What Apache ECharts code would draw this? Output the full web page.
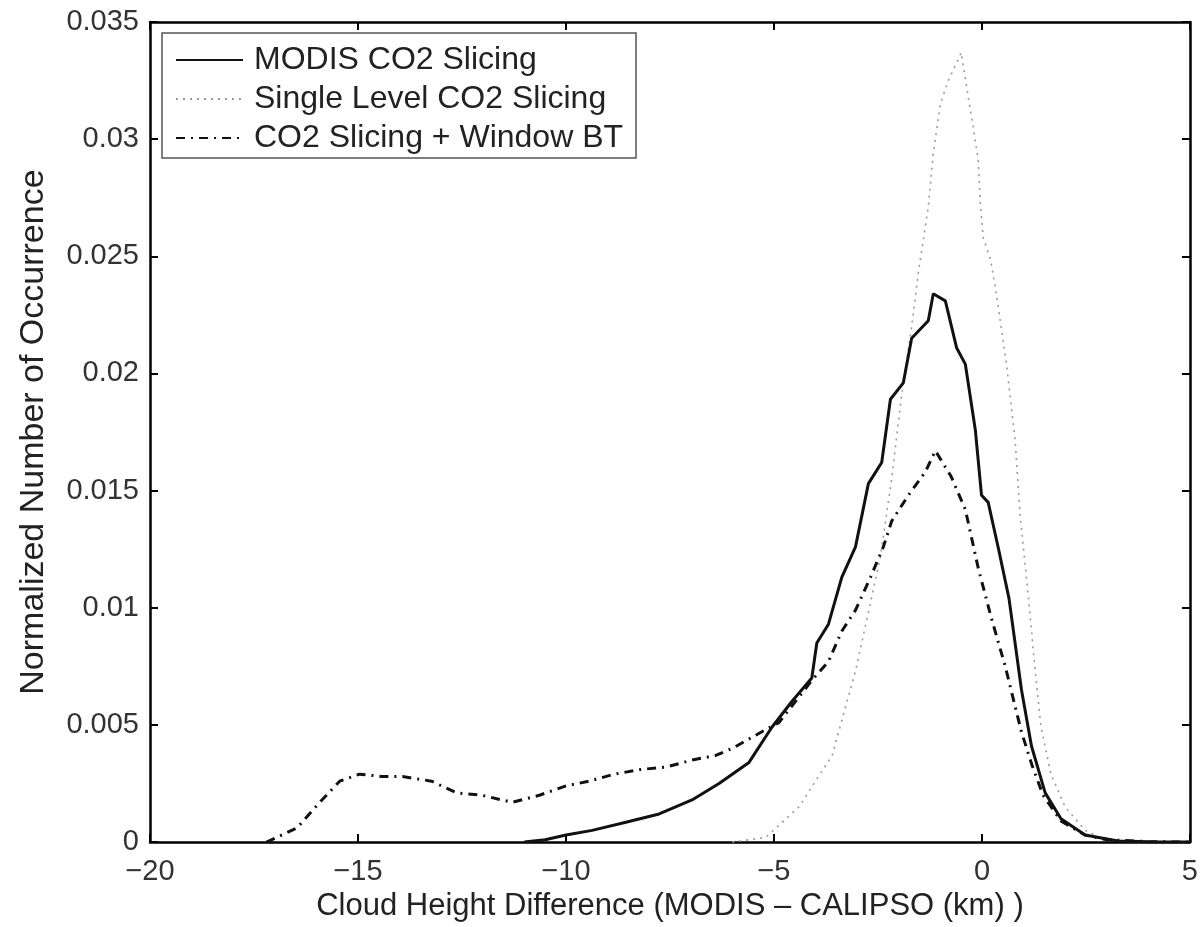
<!DOCTYPE html>
<html>
<head>
<meta charset="utf-8">
<script src="https://cdn.jsdelivr.net/npm/echarts@6/dist/echarts.min.js"></script>
<style>
html,body{margin:0;padding:0;background:#fff;}
#chart{width:1201px;height:927px;}
</style>
</head>
<body>
<div id="chart"></div>
<script>
// ---- Data ----
var seriesNames = ['MODIS CO2 Slicing', 'Single Level CO2 Slicing', 'CO2 Slicing + Window BT'];

var modisX = [-11.0, -10.5, -10.0, -9.37, -8.56, -7.76, -6.97, -6.32, -5.6, -5.05, -4.57, -4.09, -3.97, -3.69, -3.37, -3.04, -2.73, -2.41, -2.2, -1.89, -1.69, -1.29, -1.17, -0.88, -0.61, -0.40, -0.16, -0.01, 0.15, 0.40, 0.65, 0.95, 1.19, 1.52, 1.9, 2.48, 3.27, 4.0, 5.0];
var modisY = [0, 0.0001, 0.0003, 0.0005, 0.00085, 0.0012, 0.0018, 0.0025, 0.0034, 0.0049, 0.0060, 0.0070, 0.0085, 0.0093, 0.0113, 0.0126, 0.0153, 0.0162, 0.0189, 0.0196, 0.0215, 0.02225, 0.0234, 0.0231, 0.0211, 0.0204, 0.0176, 0.0148, 0.0145, 0.0125, 0.0104, 0.0065, 0.0041, 0.0021, 0.0010, 0.0003, 0.00005, 0.00002, 0];

var singleX = [-6.0, -5.2, -4.4, -3.6, -3.04, -2.73, -2.44, -2.17, -1.93, -1.69, -1.53, -1.29, -1.17, -1.0, -0.81, -0.57, -0.5, -0.33, -0.21, -0.09, -0.04, 0.03, 0.2, 0.32, 0.59, 0.8, 0.92, 1.11, 1.28, 1.42, 1.66, 2.0, 2.48, 2.96, 4.0, 5.0];
var singleY = [0, 0.0002, 0.0015, 0.0037, 0.0073, 0.0098, 0.0122, 0.0155, 0.0191, 0.0220, 0.0243, 0.0271, 0.0294, 0.0315, 0.0325, 0.0334, 0.0337, 0.0318, 0.0305, 0.0291, 0.0273, 0.0258, 0.0249, 0.0237, 0.0204, 0.0171, 0.0139, 0.0106, 0.0073, 0.0049, 0.0029, 0.0015, 0.0005, 0.0001, 0.00002, 0];

var windowX = [-17.2, -16.47, -15.97, -15.44, -14.96, -14.43, -13.93, -13.23, -12.63, -12.03, -11.29, -10.64, -10.0, -9.44, -8.84, -8.2, -7.6, -6.97, -6.4, -6.0, -5.2, -4.88, -4.09, -3.69, -3.37, -3.04, -2.68, -2.37, -2.17, -1.77, -1.36, -1.12, -0.74, -0.4, -0.09, 0.22, 0.56, 0.95, 1.2, 1.47, 1.9, 2.48, 3.0, 4.0, 5.0];
var windowY = [0, 0.0006, 0.0016, 0.0026, 0.0029, 0.0028, 0.0028, 0.0026, 0.0021, 0.0020, 0.0017, 0.0020, 0.0024, 0.0026, 0.0029, 0.0031, 0.0032, 0.0035, 0.0037, 0.0040, 0.0048, 0.0051, 0.0069, 0.0077, 0.0090, 0.0099, 0.0113, 0.0126, 0.0137, 0.0148, 0.0158, 0.0167, 0.0156, 0.0142, 0.0117, 0.0096, 0.0075, 0.0047, 0.0033, 0.0020, 0.0009, 0.0003, 0.0001, 0.00002, 0];

var xTicks = [-20, -15, -10, -5, 0, 5];
var yTicks = [0, 0.005, 0.01, 0.015, 0.02, 0.025, 0.03, 0.035];
var xTitle = 'Cloud Height Difference (MODIS \u2013 CALIPSO (km) )';
var yTitle = 'Normalized Number of Occurrence';

// ---- Build chart ----
function pairs(xs, ys) { return xs.map(function (x, i) { return [x, ys[i]]; }); }
var FONT = '"Liberation Sans", Arial, Helvetica, sans-serif';

var chart = echarts.init(document.getElementById('chart'), null, { renderer: 'canvas' });

var commonAxisLine = { show: true, onZero: false, lineStyle: { color: '#000', width: 2.5 } };
var commonTick = { show: true, inside: true, length: 8, lineStyle: { color: '#000', width: 2 } };

chart.setOption({
  animation: false,
  backgroundColor: '#fff',
  grid: { left: 150, right: 9, top: 22, bottom: 84, containLabel: false },
  legend: {
    show: true,
    data: seriesNames,
    orient: 'vertical',
    left: 162,
    top: 33,
    itemWidth: 67,
    itemHeight: 14,
    itemGap: 7,
    padding: [11, 13, 4, 13],
    backgroundColor: '#fff',
    borderColor: '#555',
    borderWidth: 1.5,
    itemStyle: { opacity: 0 },
    textStyle: { fontFamily: FONT, fontSize: 32, color: '#222', lineHeight: 32, padding: [0, 0, 0, 6] }
  },
  xAxis: [{
    type: 'value', min: xTicks[0], max: xTicks[xTicks.length - 1], interval: 5,
    position: 'bottom',
    name: xTitle, nameLocation: 'middle', nameGap: 47,
    nameTextStyle: { fontFamily: FONT, fontSize: 31, color: '#222' },
    axisLine: commonAxisLine, axisTick: commonTick,
    axisLabel: { show: true, margin: 15, fontFamily: FONT, fontSize: 29, color: '#333',
      formatter: function (v) { return v < 0 ? '\u2212' + Math.abs(v) : String(v); } },
    splitLine: { show: false }
  }, {
    type: 'value', min: xTicks[0], max: xTicks[xTicks.length - 1], interval: 5,
    position: 'top',
    axisLine: commonAxisLine, axisTick: commonTick,
    axisLabel: { show: false }, splitLine: { show: false }
  }],
  yAxis: [{
    type: 'value', min: yTicks[0], max: yTicks[yTicks.length - 1], interval: 0.005,
    position: 'left',
    name: yTitle, nameLocation: 'middle', nameGap: 99,
    nameTextStyle: { fontFamily: FONT, fontSize: 34, color: '#222' },
    axisLine: commonAxisLine, axisTick: commonTick,
    axisLabel: { show: true, margin: 11, fontFamily: FONT, fontSize: 29, color: '#333',
      formatter: function (v) { return v === 0 ? '0' : String(+v.toFixed(3)); } },
    splitLine: { show: false }
  }, {
    type: 'value', min: yTicks[0], max: yTicks[yTicks.length - 1], interval: 0.005,
    position: 'right',
    axisLine: commonAxisLine, axisTick: commonTick,
    axisLabel: { show: false }, splitLine: { show: false }
  }],
  series: [{
    name: seriesNames[0], type: 'line', xAxisIndex: 0, yAxisIndex: 0,
    data: pairs(modisX, modisY), symbol: 'none', smooth: false, z: 3,
    lineStyle: { color: '#111', width: 3, type: 'solid' },
    itemStyle: { color: '#111', opacity: 0 }
  }, {
    name: seriesNames[1], type: 'line', xAxisIndex: 0, yAxisIndex: 0,
    data: pairs(singleX, singleY), symbol: 'none', smooth: false, z: 2,
    lineStyle: { color: '#9a9a9a', width: 1.6, type: [2, 5] },
    itemStyle: { color: '#9a9a9a', opacity: 0 }
  }, {
    name: seriesNames[2], type: 'line', xAxisIndex: 0, yAxisIndex: 0,
    data: pairs(windowX, windowY), symbol: 'none', smooth: false, z: 4,
    lineStyle: { color: '#111', width: 3, type: [9, 6, 2, 6] },
    itemStyle: { color: '#111', opacity: 0 }
  }]
});
</script>
</body>
</html>
